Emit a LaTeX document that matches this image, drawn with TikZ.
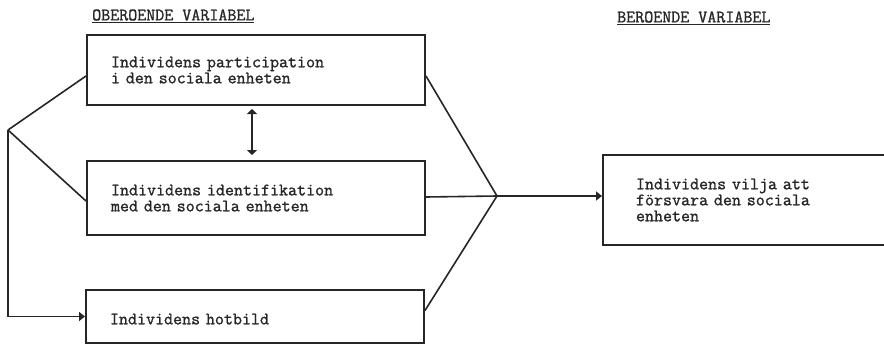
\documentclass[tikz,border=0pt]{standalone}
\usepackage{fontspec}
\setmonofont[AutoFakeBold=1.2]{Latin Modern Mono}
\usetikzlibrary{arrows.meta,calc}
\definecolor{ink}{HTML}{262626}
\begin{document}
\begin{tikzpicture}[x=1pt,y=-1pt,
  every node/.style={font=\ttfamily\bfseries\fontsize{17.5}{16}\selectfont, text=ink},
  box/.style={draw=ink, line width=2pt, rectangle, align=left, inner ysep=0pt},
  conn/.style={draw=ink, line width=1.6pt},
  tip/.style={-{Triangle[width=9pt,length=6pt]}},
  heading/.style={anchor=west, inner sep=0pt, font=\ttfamily\bfseries\fontsize{17.5}{16}\selectfont}
]
\useasboundingbox (0,0) rectangle (884,345);
\node[heading] (h1) at (92,16) {\underline{OBEROENDE VARIABEL}};
\node[heading] (h2) at (617,18) {\underline{BEROENDE VARIABEL}};

\node[box, anchor=north west, minimum width=338pt, minimum height=70pt, text width=290pt, inner xsep=24pt] (b1) at (86,34)
  {Individens participation\\i den sociala enheten};
\node[box, anchor=north west, minimum width=338pt, minimum height=74pt, text width=290pt, inner xsep=23pt] (b2) at (86,160)
  {Individens identifikation\\med den sociala enheten};
\node[box, anchor=north west, minimum width=338pt, minimum height=53pt, text width=290pt, inner xsep=24pt, text depth=0pt] (b3) at (85,289)
  {\raisebox{-5pt}{Individens hotbild}};
\node[box, anchor=north west, minimum width=300pt, minimum height=90pt, text width=234pt, inner xsep=33pt] (b4) at (602,154)
  {Individens vilja att\\försvara den sociala\\enheten};

\coordinate (J1) at (8,130);
\coordinate (J2) at (497,196);

\draw[conn] (J1) -- ($(b1.west)+(0,6)$);
\draw[conn] (J1) -- ($(b2.west)+(0,3)$);
\draw[conn, tip] (J1) |- (b3.west);
\draw[conn] ($(b1.east)+(0,6)$) -- (J2);
\draw[conn] ($(b2.east)+(0,-1)$) -- (J2);
\draw[conn] ($(b3.east)+(0,-6)$) -- (J2);
\draw[conn, tip] (J2) -- (J2 -| b4.west);
\draw[conn, {Triangle[width=10pt,length=5pt]}-{Triangle[width=10pt,length=5pt]}] ($(b1.south)+(-4,3)$) -- ($(b2.north)+(-4,-5)$);
\end{tikzpicture}
\end{document}
